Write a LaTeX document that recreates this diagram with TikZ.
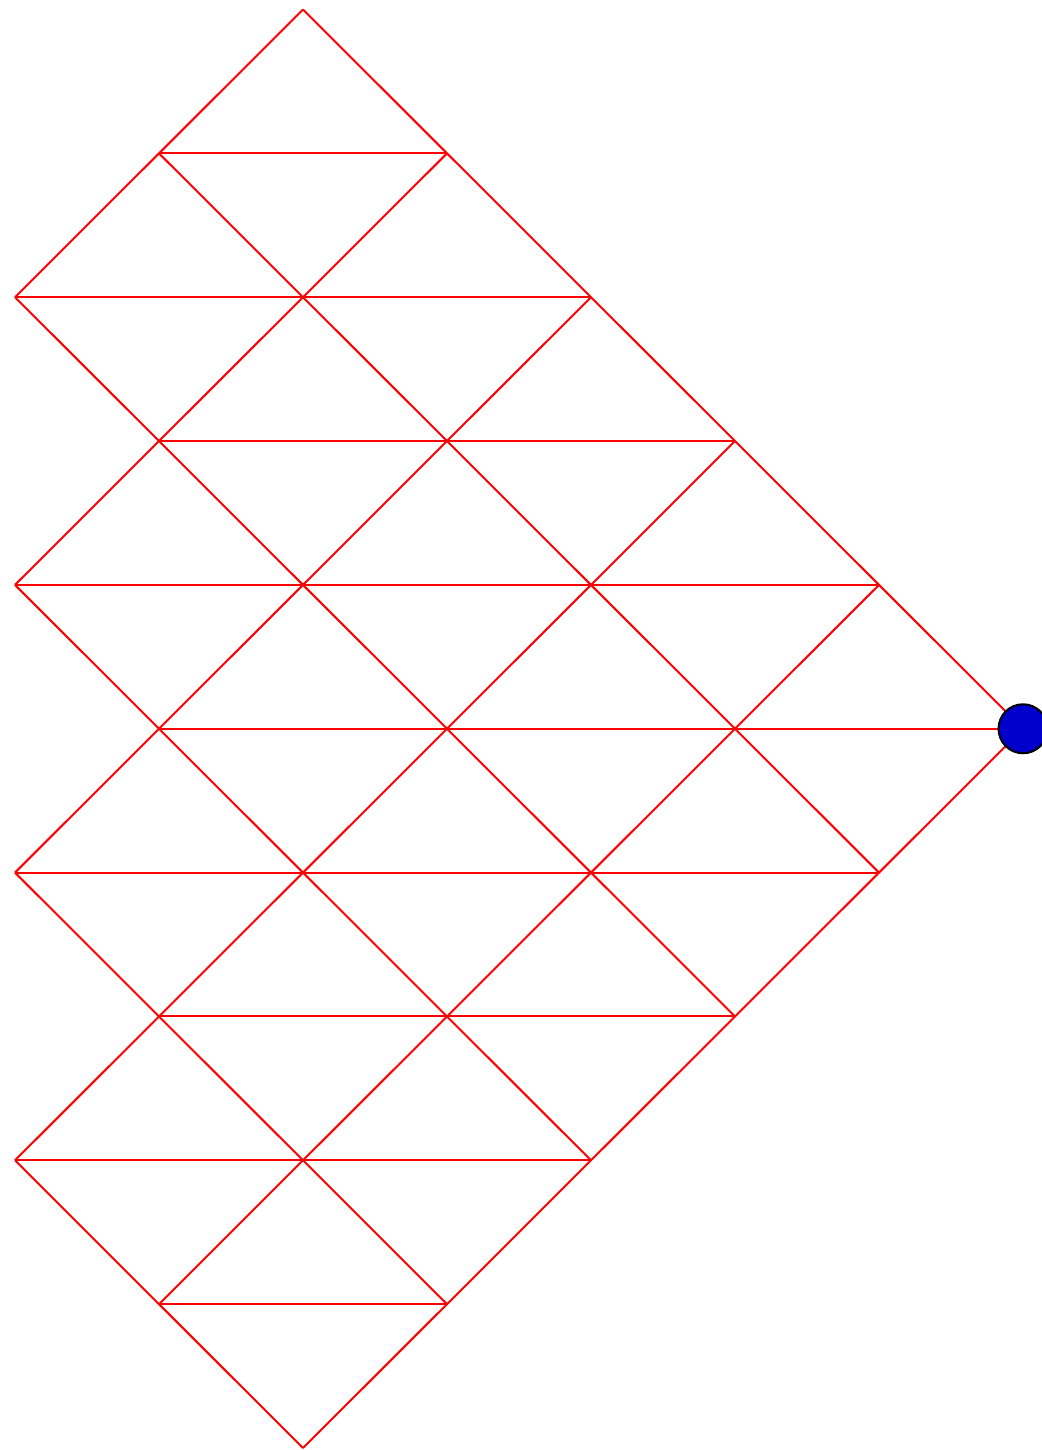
\documentclass[tikz,border=0pt]{standalone}
\begin{document}
\begin{tikzpicture}[x=0.5pt,y=-0.5pt,
  gridline/.style={red,line width=1pt,line join=miter},
  dot/.style={circle,draw=black,line width=1pt,fill={rgb,255:red,0;green,0;blue,205},minimum size=24.5pt,inner sep=0pt}]
\useasboundingbox (0,0) rectangle (1042,1450);
\begin{scope}
\clip (0,0) rectangle (1042,1450);
% grid points: P(i,j) = (15+144 i, 9.5+143.85 j)
\foreach \i in {0,...,7}{
  \foreach \j in {0,...,10}{
    \coordinate (p\i-\j) at ({15+144*\i},{9.5+143.85*\j});
  }
}
% down-right diagonals
\draw[gridline] (p2-0) -- (p7-5);
\draw[gridline] (p1-1) -- (p6-6);
\draw[gridline] (p0-2) -- (p5-7);
\draw[gridline] (p0-4) -- (p4-8);
\draw[gridline] (p0-6) -- (p3-9);
\draw[gridline] (p0-8) -- (p2-10);
% down-left diagonals
\draw[gridline] (p2-0) -- (p0-2);
\draw[gridline] (p3-1) -- (p0-4);
\draw[gridline] (p4-2) -- (p0-6);
\draw[gridline] (p5-3) -- (p0-8);
\draw[gridline] (p6-4) -- (p1-9);
\draw[gridline] (p7-5) -- (p2-10);
% horizontals
\draw[gridline] (p1-1) -- (p3-1);
\draw[gridline] (p0-2) -- (p4-2);
\draw[gridline] (p1-3) -- (p5-3);
\draw[gridline] (p0-4) -- (p6-4);
\draw[gridline] (p1-5) -- (p7-5);
\draw[gridline] (p0-6) -- (p6-6);
\draw[gridline] (p1-7) -- (p5-7);
\draw[gridline] (p0-8) -- (p4-8);
\draw[gridline] (p1-9) -- (p3-9);
\node[dot] (c) at (p7-5) {};
\end{scope}
\end{tikzpicture}
\end{document}
